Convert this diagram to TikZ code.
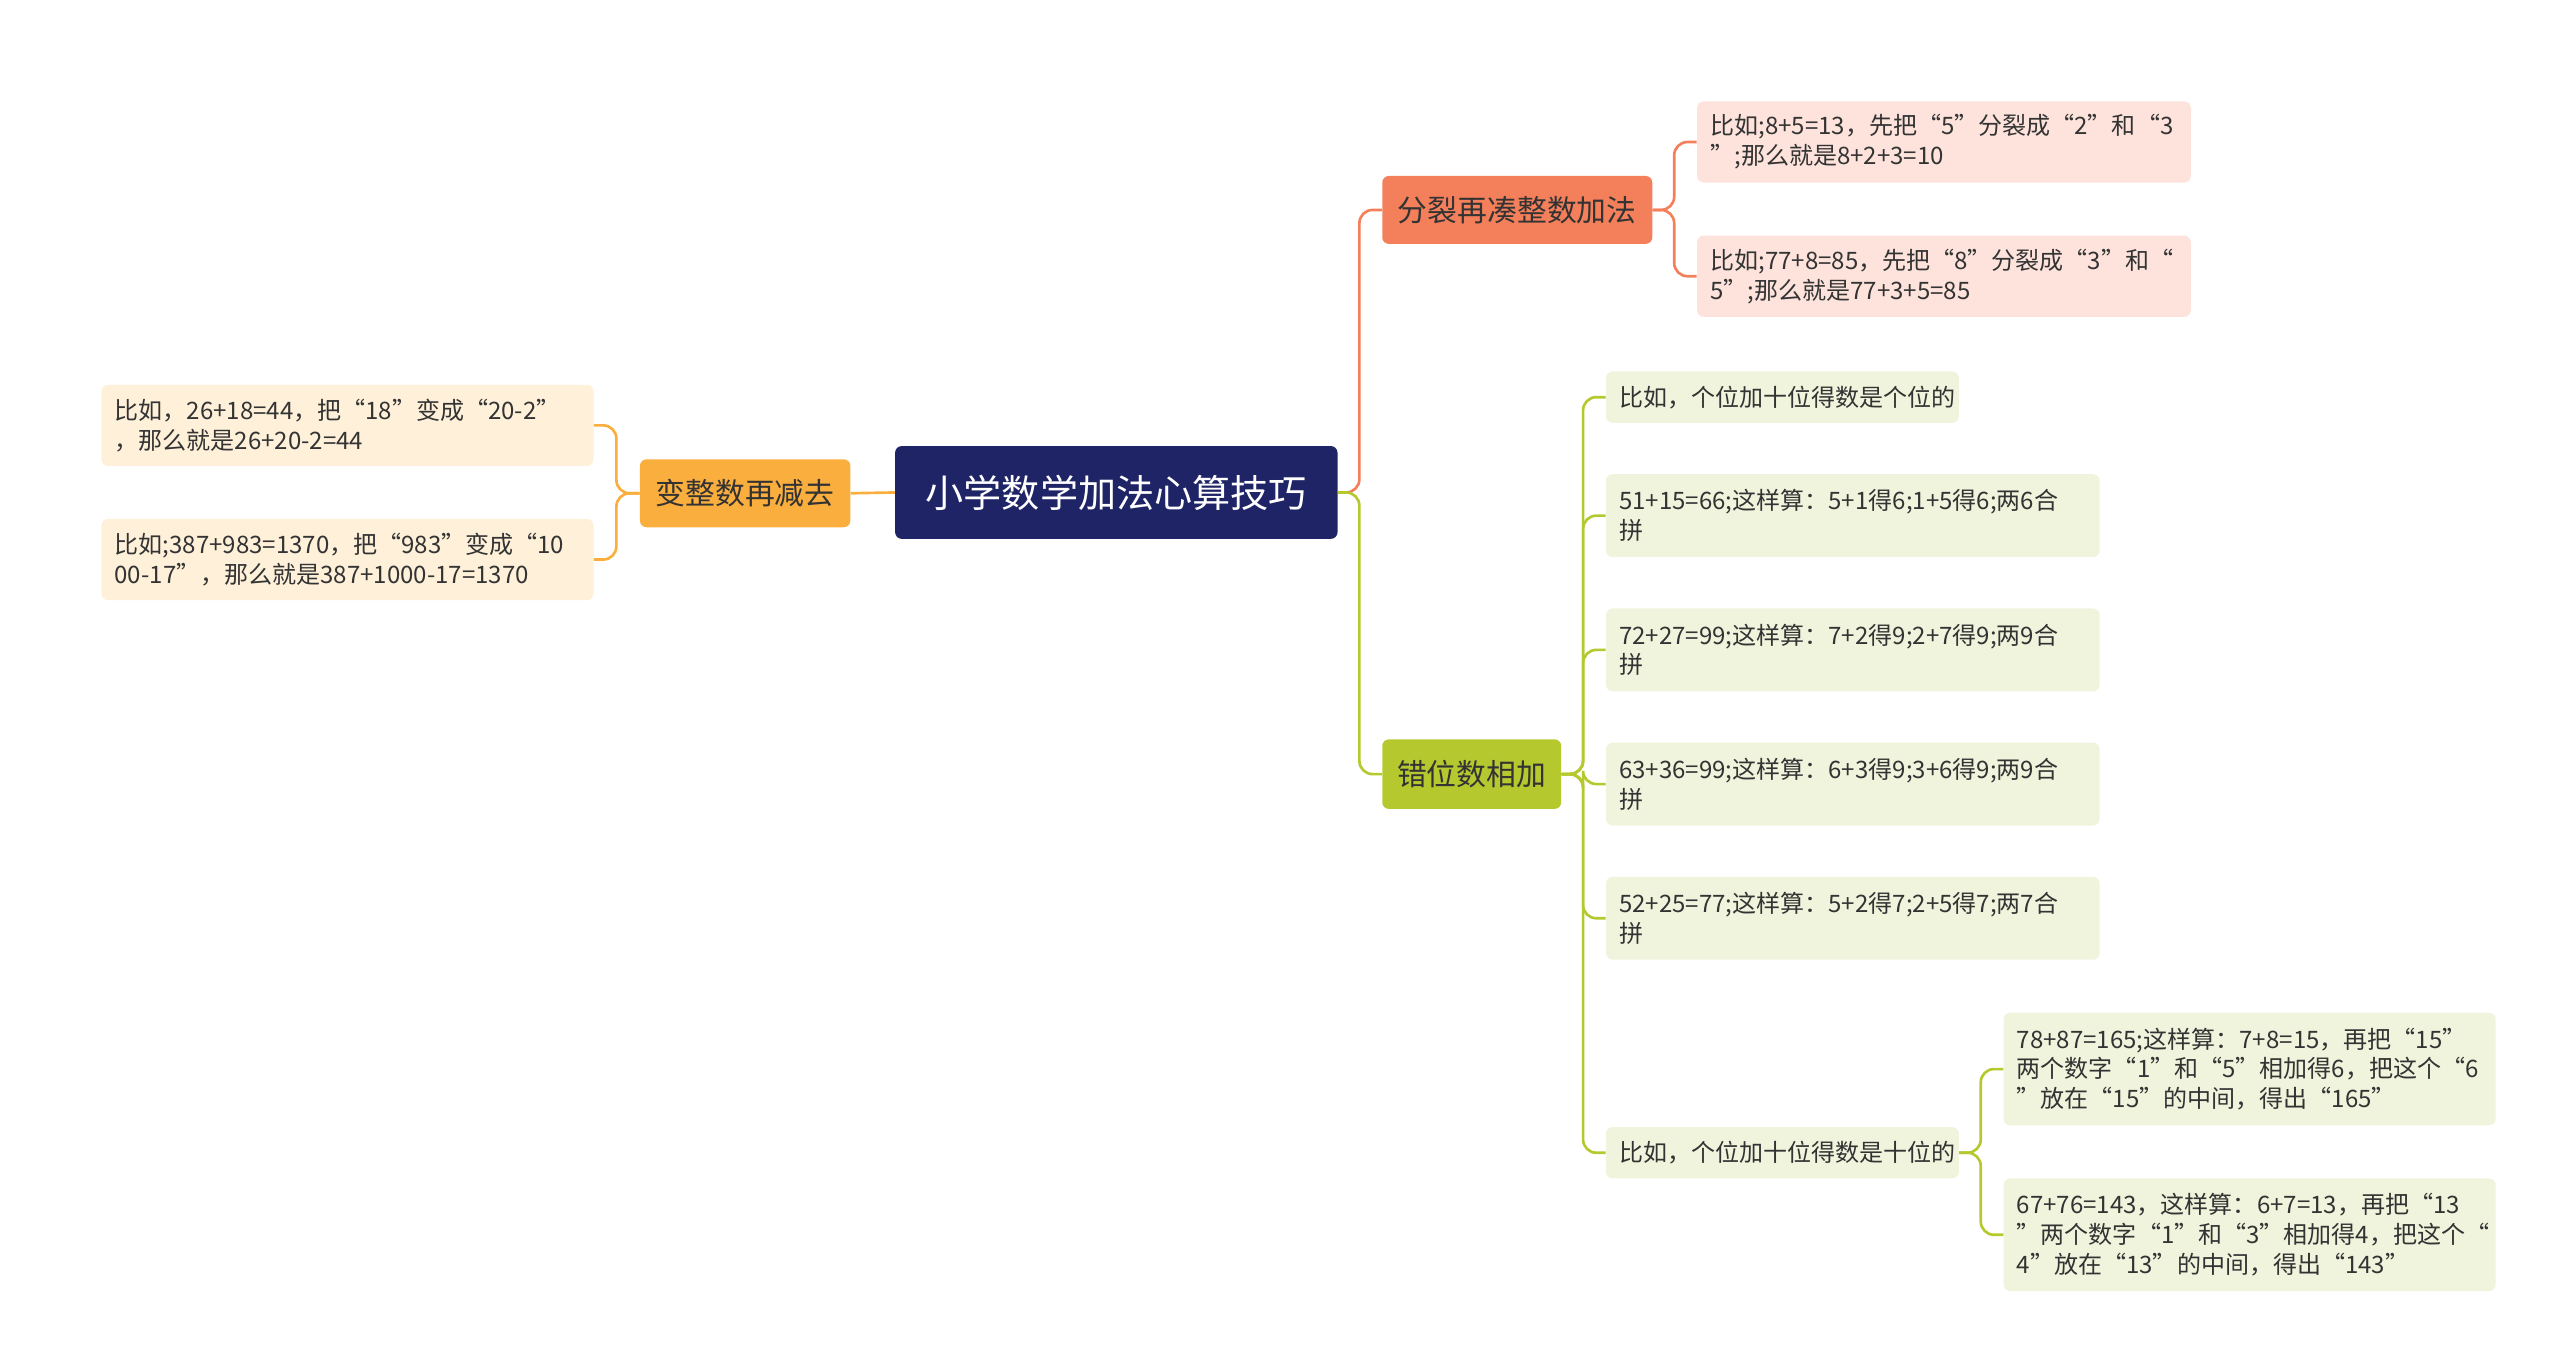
\documentclass[tikz,border=0pt]{standalone}
\usepackage{fontspec}
\setmainfont{Noto Sans CJK SC}
\definecolor{navy}{HTML}{1F2466}
\definecolor{orA}{HTML}{F9AE3E}
\definecolor{orAl}{HTML}{FEF0D9}
\definecolor{rdB}{HTML}{F47F5B}
\definecolor{rdBl}{HTML}{FDE3DC}
\definecolor{grC}{HTML}{B5C92F}
\definecolor{grCl}{HTML}{F0F4DC}
\definecolor{txt}{HTML}{333333}
\begin{document}
\begin{tikzpicture}[x=1pt,y=-1pt,
 box/.style={anchor=north west,rounded corners=4pt,inner xsep=8pt,inner ysep=0pt,align=left,text=txt},
 leaf/.style={box,font=\fontsize{14.5}{18}\selectfont},
 conn/.style={line width=1.6pt,rounded corners=8pt}]
\useasboundingbox (0,0) rectangle (1545,827);
\node[box,fill=navy,text=white,minimum width=267pt,minimum height=56pt,text width=251pt,align=center,font=\fontsize{23}{26}\selectfont] (root) at (540,269) {小学数学加法心算技巧};
\node[box,fill=orA,minimum width=127pt,minimum height=41pt,text width=111pt,align=center,font=\fontsize{18}{22}\selectfont] (L) at (386,277) {变整数再减去};
\node[box,fill=rdB,minimum width=163pt,minimum height=41pt,text width=147pt,align=center,font=\fontsize{18}{22}\selectfont] (A) at (834,106) {分裂再凑整数加法};
\node[box,fill=grC,minimum width=108pt,minimum height=42pt,text width=92pt,align=center,font=\fontsize{18}{22}\selectfont] (B) at (834,446) {错位数相加};

\node[leaf,fill=orAl,minimum width=297pt,minimum height=49pt,text width=281pt] (L1) at (61,232) {比如，26+18=44，把“18”变成“20-2”\\，那么就是26+20-2=44};
\node[leaf,fill=orAl,minimum width=297pt,minimum height=49pt,text width=281pt] (L2) at (61,313) {比如;387+983=1370，把“983”变成“10\\00-17”，那么就是387+1000-17=1370};

\node[leaf,fill=rdBl,minimum width=298pt,minimum height=49pt,text width=282pt] (A1) at (1024,61) {比如;8+5=13，先把“5”分裂成“2”和“3\\”;那么就是8+2+3=10};
\node[leaf,fill=rdBl,minimum width=298pt,minimum height=49pt,text width=282pt] (A2) at (1024,142) {比如;77+8=85，先把“8”分裂成“3”和“\\5”;那么就是77+3+5=85};

\node[leaf,fill=grCl,minimum width=213pt,minimum height=31pt,text width=197pt] (B1) at (969,224) {比如，个位加十位得数是个位的};
\node[leaf,fill=grCl,minimum width=298pt,minimum height=50pt,text width=282pt] (B2) at (969,286) {51+15=66;这样算：5+1得6;1+5得6;两6合\\拼};
\node[leaf,fill=grCl,minimum width=298pt,minimum height=50pt,text width=282pt] (B3) at (969,367) {72+27=99;这样算：7+2得9;2+7得9;两9合\\拼};
\node[leaf,fill=grCl,minimum width=298pt,minimum height=50pt,text width=282pt] (B4) at (969,448) {63+36=99;这样算：6+3得9;3+6得9;两9合\\拼};
\node[leaf,fill=grCl,minimum width=298pt,minimum height=50pt,text width=282pt] (B5) at (969,529) {52+25=77;这样算：5+2得7;2+5得7;两7合\\拼};
\node[leaf,fill=grCl,minimum width=213pt,minimum height=31pt,text width=197pt] (B6) at (969,680) {比如，个位加十位得数是十位的};
\node[leaf,fill=grCl,minimum width=297pt,minimum height=68pt,text width=281pt] (C1) at (1209,611) {78+87=165;这样算：7+8=15，再把“15”\\两个数字“1”和“5”相加得6，把这个“6\\”放在“15”的中间，得出“165”};
\node[leaf,fill=grCl,minimum width=297pt,minimum height=68pt,text width=281pt] (C2) at (1209,711) {67+76=143，这样算：6+7=13，再把“13\\”两个数字“1”和“3”相加得4，把这个“\\4”放在“13”的中间，得出“143”};

\draw[conn,orA] (root.west) -- (L.east);
\foreach \n in {L1,L2} \draw[conn,orA] (L.west) -- ++(-14,0) |- (\n.east);
\draw[conn,rdB] (root.east) -- ++(13,0) |- (A.west);
\draw[conn,grC] (root.east) -- ++(13,0) |- (B.west);
\foreach \n in {A1,A2} \draw[conn,rdB] (A.east) -- ++(13,0) |- (\n.west);
\foreach \n in {B1,B2,B3,B4,B5,B6} \draw[conn,grC] (B.east) -- ++(13,0) |- (\n.west);
\foreach \n in {C1,C2} \draw[conn,grC] (B6.east) -- ++(13,0) |- (\n.west);
\end{tikzpicture}
\end{document}
